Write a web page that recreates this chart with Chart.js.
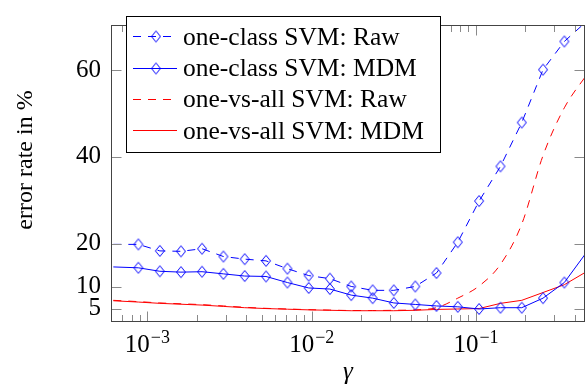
<!DOCTYPE html>
<html>
<head>
<meta charset="utf-8">
<script src="https://cdn.jsdelivr.net/npm/chart.js@4.4.1/dist/chart.umd.min.js"></script>
<style>
  html, body { margin: 0; padding: 0; background: #fff; }
  canvas { display: block; }
</style>
</head>
<body>
<canvas id="chart" width="588" height="388"></canvas>
<script>
// gamma grid (first and last points lie just outside the visible range)
const gamma = [6.2e-4, 8.8e-4, 1.19e-3, 1.6e-3, 2.15e-3, 2.9e-3, 3.91e-3, 5.27e-3, 7.11e-3, 9.59e-3,
    1.29e-2, 1.74e-2, 2.35e-2, 3.16e-2, 4.27e-2, 5.75e-2, 7.75e-2, 0.1045, 0.141, 0.19, 0.256, 0.345, 0.48];

// error rates in %
const oneClassRaw = [19.8, 19.8, 18.3, 18.2, 18.8, 17.0, 16.4, 16.0, 14.2, 12.6, 11.9, 10.1,
    9.2, 9.2, 10.1, 13.2, 20.3, 29.8, 37.8, 47.9, 60.1, 66.6, 71.5];
const oneClassMdm = [14.6, 14.4, 13.6, 13.4, 13.5, 13.0, 12.5, 12.4, 11.0, 9.75, 9.5, 8.1,
    7.4, 6.3, 5.95, 5.6, 5.4, 4.9, 5.2, 5.2, 7.4, 11.0, 18.4];
const oneVsAllRaw = [6.9, 6.6, 6.3, 6.1, 5.9, 5.6, 5.3, 5.05, 4.9, 4.75, 4.65, 4.55,
    4.55, 4.6, 4.7, 5.2, 7.4, 10.2, 15.2, 24.5, 40.3, 51.3, 59.3];
const oneVsAllMdm = [6.8, 6.5, 6.2, 6.0, 5.8, 5.5, 5.2, 5.0, 4.85, 4.7, 4.6, 4.5,
    4.5, 4.5, 4.6, 4.8, 4.9, 5.0, 6.2, 6.9, 8.7, 10.5, 13.7];

const seriesLabels = ["one-class SVM: Raw", "one-class SVM: MDM", "one-vs-all SVM: Raw", "one-vs-all SVM: MDM"];
const yTicks = [5, 10, 20, 40, 60];
const xTicks = [1e-3, 1e-2, 1e-1];
const xTickExp = ["\u22123", "\u22122", "\u22121"];
const xTitle = "\u03B3";
const yTitle = "error rate in %";

const xMin = 6.36e-4;
const xMax = 0.461;
const yMin = 1.9;
const yMax = 70.4;

const blue = "rgb(0, 0, 255)";
const red = "rgb(255, 0, 0)";
const serif = '"Liberation Serif", "Times New Roman", serif';

// pgfplots style diamond mark
const diamond = document.createElement("canvas");
diamond.width = 12;
diamond.height = 14;
const dctx = diamond.getContext("2d");
dctx.strokeStyle = blue;
dctx.lineWidth = 1;
dctx.beginPath();
dctx.moveTo(6, 1.5);
dctx.lineTo(10.5, 7);
dctx.lineTo(6, 12.5);
dctx.lineTo(1.5, 7);
dctx.closePath();
dctx.stroke();

function points(values) {
    return values.map((v, i) => ({ x: gamma[i], y: v }));
}

function markRadius(c) {
    if (!c.raw || c.raw.x < xMin || c.raw.x > xMax) {
        return 0;
    }
    return 5;
}

const pgfAxes = {
    id: "pgfAxes",
    afterDraw(chart) {
        const { ctx, chartArea: a, scales } = chart;
        const x = scales.x;
        const y = scales.y;
        ctx.save();

        // tick marks, inward on all four sides
        ctx.strokeStyle = "#8a8a8a";
        ctx.lineWidth = 1;
        ctx.setLineDash([]);
        ctx.beginPath();
        for (let e = -4; e <= 0; e++) {
            for (let k = 1; k <= 9; k++) {
                const v = k * Math.pow(10, e);
                if (v < x.min || v > x.max) continue;
                const px = Math.round(x.getPixelForValue(v)) + 0.5;
                const len = k === 1 ? 10.5 : 7;
                ctx.moveTo(px, a.bottom);
                ctx.lineTo(px, a.bottom - len);
                ctx.moveTo(px, a.top);
                ctx.lineTo(px, a.top + len);
            }
        }
        yTicks.forEach(v => {
            const py = Math.round(y.getPixelForValue(v)) + 0.5;
            ctx.moveTo(a.left, py);
            ctx.lineTo(a.left + 10.5, py);
            ctx.moveTo(a.right, py);
            ctx.lineTo(a.right - 10.5, py);
        });
        ctx.stroke();

        // frame
        ctx.strokeStyle = "#444";
        ctx.strokeRect(a.left + 0.5, a.top + 0.5, a.right - a.left - 1, a.bottom - a.top - 1);

        // x tick labels 10^k
        ctx.fillStyle = "#000";
        ctx.textAlign = "left";
        ctx.textBaseline = "alphabetic";
        xTicks.forEach((v, i) => {
            const px = x.getPixelForValue(v);
            ctx.font = "25px " + serif;
            const wb = ctx.measureText("10").width;
            ctx.font = "18px " + serif;
            const we = ctx.measureText(xTickExp[i]).width;
            const sx = px - (wb + we + 1) / 2;
            ctx.font = "25px " + serif;
            ctx.fillText("10", sx, 352);
            ctx.font = "18px " + serif;
            ctx.fillText(xTickExp[i], sx + wb + 1, 343);
        });

        // axis titles
        ctx.font = "italic 25px " + serif;
        ctx.textAlign = "center";
        ctx.fillText(xTitle, (a.left + a.right) / 2, 379);

        ctx.save();
        ctx.translate(31.5, 160);
        ctx.rotate(-Math.PI / 2);
        ctx.font = "24px " + serif;
        ctx.textAlign = "center";
        ctx.textBaseline = "alphabetic";
        ctx.fillText(yTitle, 0, 0);
        ctx.restore();

        // legend box
        ctx.fillStyle = "#fff";
        ctx.fillRect(126, 16, 314, 137);
        ctx.strokeStyle = "#000";
        ctx.lineWidth = 1;
        ctx.strokeRect(126.5, 16.5, 314, 136);

        const baselines = [44.5, 76, 107.3, 138.6];
        chart.data.datasets.forEach((ds, i) => {
            const ly = Math.round(baselines[i] - 8.5) + 0.5;
            ctx.strokeStyle = ds.borderColor;
            ctx.lineWidth = ds.borderWidth;
            ctx.setLineDash(ds.borderDash || []);
            ctx.beginPath();
            ctx.moveTo(133, ly);
            ctx.lineTo(177, ly);
            ctx.stroke();
            ctx.setLineDash([]);
            if (ds.pointStyle) {
                ctx.drawImage(diamond, 156 - 6, ly - 7);
            }
            ctx.fillStyle = "#000";
            ctx.font = "25.5px " + serif;
            ctx.textAlign = "left";
            ctx.textBaseline = "alphabetic";
            ctx.fillText(ds.label, 183, baselines[i]);
        });

        ctx.restore();
    }
};

const ctx = document.getElementById("chart");

const chart = new Chart(ctx, {
    type: "line",
    data: {
        datasets: [{
            label: seriesLabels[0],
            data: points(oneClassRaw),
            borderColor: blue,
            borderWidth: 1,
            borderDash: [8, 7],
            pointStyle: diamond,
            pointRadius: markRadius,
            pointHoverRadius: markRadius,
            tension: 0
        }, {
            label: seriesLabels[1],
            data: points(oneClassMdm),
            borderColor: blue,
            borderWidth: 1,
            pointStyle: diamond,
            pointRadius: markRadius,
            pointHoverRadius: markRadius,
            tension: 0
        }, {
            label: seriesLabels[2],
            data: points(oneVsAllRaw),
            borderColor: red,
            borderWidth: 1,
            borderDash: [8, 7],
            pointRadius: 0,
            pointHoverRadius: 0,
            cubicInterpolationMode: "monotone"
        }, {
            label: seriesLabels[3],
            data: points(oneVsAllMdm),
            borderColor: red,
            borderWidth: 1,
            pointRadius: 0,
            pointHoverRadius: 0,
            tension: 0
        }]
    },
    options: {
        responsive: false,
        animation: false,
        events: [],
        layout: {
            padding: { top: 5, right: 3, left: 0, bottom: 0 }
        },
        scales: {
            x: {
                type: "logarithmic",
                min: xMin,
                max: xMax,
                ticks: { display: false },
                grid: { display: false, drawTicks: false },
                border: { display: false },
                afterFit: scale => { scale.height = 66; }
            },
            y: {
                type: "linear",
                min: yMin,
                max: yMax,
                afterBuildTicks: axis => {
                    axis.ticks = yTicks.map(v => ({ value: v }));
                },
                ticks: {
                    autoSkip: false,
                    padding: 10,
                    color: "#000",
                    font: { family: "Liberation Serif", size: 25 }
                },
                grid: { display: false, drawTicks: false },
                border: { display: false },
                afterFit: scale => { scale.width = 111; }
            }
        },
        plugins: {
            legend: { display: false },
            tooltip: { enabled: false }
        }
    },
    plugins: [pgfAxes]
});
</script>
</body>
</html>
